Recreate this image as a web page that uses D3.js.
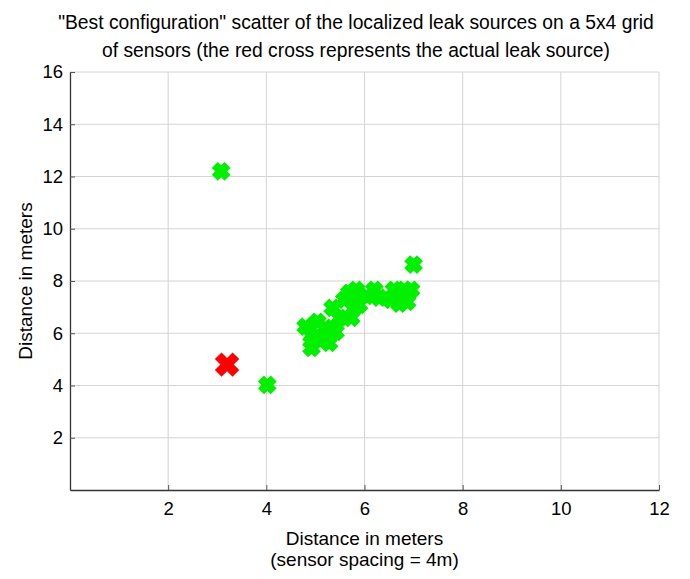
<!DOCTYPE html>
<html>
<head>
<meta charset="utf-8">
<script src="https://cdn.jsdelivr.net/npm/d3@7"></script>
<style>
  body { margin: 0; background: #fff; }
  text { font-family: "Liberation Sans", Arial, sans-serif; fill: #000; }
</style>
</head>
<body>
<div id="viz"></div>
<script>
// data
let titleLines = ['"Best configuration" scatter of the localized leak sources on a 5x4 grid',
                  'of sensors (the red cross represents the actual leak source)']
let xTicks = [2, 4, 6, 8, 10, 12]
let yTicks = [2, 4, 6, 8, 10, 12, 14, 16]

// localized sources (green)
let estX = [3.08, 4.02, 7.0,
            4.80, 4.92, 5.04, 5.12, 5.28, 5.20, 5.41, 4.92,
            5.35, 5.49, 5.59, 5.69, 5.73, 5.83, 5.89, 5.79,
            6.04, 6.20, 6.30, 6.60, 6.54, 6.71, 6.81, 6.95, 6.87]
let estY = [12.2, 4.02, 8.63,
            6.25, 5.44, 6.44, 5.75, 5.63, 6.21, 6.05, 5.90,
            6.97, 6.59, 7.28, 7.55, 6.59, 7.66, 7.09, 6.97,
            7.43, 7.66, 7.36, 7.66, 7.28, 7.13, 7.66, 7.66, 7.20]
// actual source (red)
let realX = [3.2]
let realY = [4.8]

let svgWidth = 690, svgHeight = 579
let margin = {left: 70, right: 31, top: 72, bottom: 89}
let width = svgWidth - margin.left - margin.right
let height = svgHeight - margin.top - margin.bottom

const svg = d3.select('#viz')
    .append('svg')
    .attr('width', svgWidth)
    .attr('height', svgHeight)

let xScale = d3.scaleLinear().domain([0, 12]).range([margin.left, margin.left + width])
let yScale = d3.scaleLinear().domain([0, 16]).range([margin.top + height, margin.top])

// grid
svg.append('g')
    .selectAll('line')
    .data(xTicks)
    .join('line')
    .attr('x1', d => xScale(d)).attr('x2', d => xScale(d))
    .attr('y1', yScale(0)).attr('y2', yScale(16))
    .attr('stroke', '#d4d4d4').attr('stroke-width', 1)
svg.append('g')
    .selectAll('line')
    .data(yTicks)
    .join('line')
    .attr('y1', d => yScale(d)).attr('y2', d => yScale(d))
    .attr('x1', xScale(0)).attr('x2', xScale(12))
    .attr('stroke', '#d4d4d4').attr('stroke-width', 1)

// axes
let xAxis = d3.axisBottom(xScale).tickValues(xTicks).tickSizeInner(-5).tickSizeOuter(0).tickPadding(12)
let yAxis = d3.axisLeft(yScale).tickValues(yTicks).tickSizeInner(-5).tickSizeOuter(0).tickPadding(7)

let gx = svg.append('g')
    .attr('transform', `translate(0,${yScale(0)})`)
    .call(xAxis)
let gy = svg.append('g')
    .attr('transform', `translate(${xScale(0)},0)`)
    .call(yAxis)
svg.selectAll('.domain').attr('stroke', '#333').attr('stroke-width', 1.3)
svg.selectAll('.tick line').attr('stroke', '#555')
svg.selectAll('.tick text')
    .style('font-family', '"Liberation Sans", Arial, sans-serif')
    .style('font-size', '18.5px')
    .attr('fill', '#000')

// thick X marker: arm length L, arm width w
function xMark(L, w) {
    let a = L / 2, b = w / 2
    let p = d3.path()
    p.moveTo(-b, -a); p.lineTo(b, -a); p.lineTo(b, -b); p.lineTo(a, -b)
    p.lineTo(a, b); p.lineTo(b, b); p.lineTo(b, a); p.lineTo(-b, a)
    p.lineTo(-b, b); p.lineTo(-a, b); p.lineTo(-a, -b); p.lineTo(-b, -b)
    p.closePath()
    return p.toString()
}

let est = d3.range(estX.length).map(i => ({x: estX[i], y: estY[i]}))
svg.append('g')
    .selectAll('path')
    .data(est)
    .join('path')
    .attr('d', xMark(18, 8.5))
    .attr('transform', d => `translate(${xScale(d.x)},${yScale(d.y)}) rotate(45)`)
    .attr('fill', '#00f000')

let real = d3.range(realX.length).map(i => ({x: realX[i], y: realY[i]}))
svg.append('g')
    .selectAll('path')
    .data(real)
    .join('path')
    .attr('d', xMark(25, 9.5))
    .attr('transform', d => `translate(${xScale(d.x)},${yScale(d.y)}) rotate(45)`)
    .attr('fill', '#ff0000')

// title
svg.append('g')
    .selectAll('text')
    .data(titleLines)
    .join('text')
    .attr('x', 356)
    .attr('y', (d, i) => 29 + i * 28)
    .attr('text-anchor', 'middle')
    .style('font-size', '19.3px')
    .text(d => d)

// axis labels
svg.append('text')
    .attr('x', xScale(6))
    .attr('y', 545)
    .attr('text-anchor', 'middle')
    .style('font-size', '19px')
    .text('Distance in meters')
svg.append('text')
    .attr('x', xScale(6))
    .attr('y', 566)
    .attr('text-anchor', 'middle')
    .style('font-size', '19px')
    .text('(sensor spacing = 4m)')
svg.append('text')
    .attr('transform', `translate(32,${yScale(8)}) rotate(-90)`)
    .attr('text-anchor', 'middle')
    .style('font-size', '19px')
    .text('Distance in meters')
</script>
</body>
</html>
